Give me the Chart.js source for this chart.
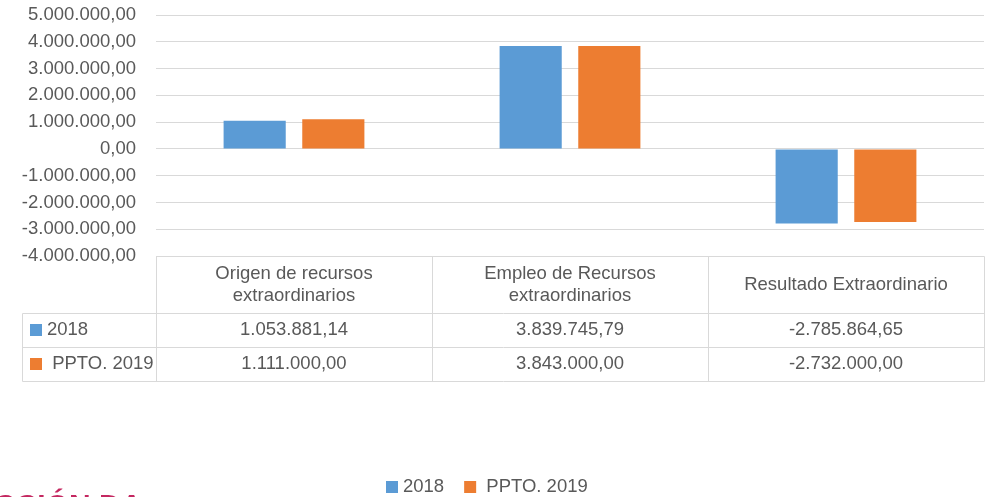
<!DOCTYPE html>
<html>
<head>
<meta charset="utf-8">
<script src="https://cdn.jsdelivr.net/npm/chart.js@4.4.1/dist/chart.umd.min.js"></script>
<style>
  html, body { margin: 0; padding: 0; background: #fff; }
  #wrap { width: 993px; height: 497px; position: relative; overflow: hidden; }
</style>
</head>
<body>
<div id="wrap"><canvas id="chart" width="993" height="497"></canvas></div>
<script>
const categories = [
  ['Origen de recursos', 'extraordinarios'],
  ['Empleo de Recursos', 'extraordinarios'],
  ['Resultado Extraordinario']
];
const seriesNames = ['2018', ' PPTO. 2019'];
const values2018 = [1053881.14, 3839745.79, -2785864.65];
const valuesPpto2019 = [1111000.00, 3843000.00, -2732000.00];
const yTicks = [-4000000, -3000000, -2000000, -1000000, 0, 1000000, 2000000, 3000000, 4000000, 5000000];

const colors = ['#5b9bd5', '#ed7d31'];
const textColor = '#595959';
const lineColor = '#d9d9d9';
const font = '"Liberation Sans", Arial, sans-serif';

function fmt(v) {
  const neg = v < 0;
  const parts = Math.abs(v).toFixed(2).split('.');
  return (neg ? '-' : '') + parts[0].replace(/\B(?=(\d{3})+(?!\d))/g, '.') + ',' + parts[1];
}

function line(ctx, x1, y1, x2, y2) {
  ctx.beginPath();
  ctx.moveTo(Math.round(x1) + 0.5, Math.round(y1) + 0.5);
  ctx.lineTo(Math.round(x2) + 0.5, Math.round(y2) + 0.5);
  ctx.stroke();
}

// tabla de datos + leyenda inferior
const tablePlugin = {
  id: 'dataTable',
  afterDraw(chart) {
    const ctx = chart.ctx;
    const a = chart.chartArea;
    const x = chart.scales.x;
    const top = a.bottom;
    const headBottom = top + 57;
    const rowH = 34;
    const labelLeft = 22;
    const colW = (a.right - a.left) / categories.length;
    const rowsBottom = headBottom + rowH * chart.data.datasets.length;

    ctx.save();
    ctx.strokeStyle = lineColor;
    ctx.lineWidth = 1;
    line(ctx, a.left, top, a.right, top);
    for (let r = 0; r <= chart.data.datasets.length; r++) {
      line(ctx, labelLeft, headBottom + r * rowH, a.right, headBottom + r * rowH);
    }
    line(ctx, labelLeft, headBottom, labelLeft, rowsBottom);
    for (let i = 0; i <= categories.length; i++) {
      line(ctx, a.left + i * colW, top, a.left + i * colW, rowsBottom);
    }

    ctx.fillStyle = textColor;
    ctx.font = '18.5px ' + font;
    ctx.textBaseline = 'middle';
    ctx.textAlign = 'center';
    const headMid = (top + headBottom) / 2;
    categories.forEach((lines, i) => {
      const cx = x.getPixelForValue(i);
      lines.forEach((t, k) => {
        ctx.fillText(t, cx, headMid + (k - (lines.length - 1) / 2) * 22);
      });
    });

    chart.data.datasets.forEach((ds, r) => {
      const mid = headBottom + r * rowH + rowH / 2;
      ctx.fillStyle = ds.backgroundColor;
      ctx.fillRect(30, Math.round(mid - 6), 12, 12);
      ctx.fillStyle = textColor;
      ctx.textAlign = 'left';
      ctx.fillText(ds.label, 47, mid);
      ctx.textAlign = 'center';
      ds.data.forEach((v, i) => {
        ctx.fillText(fmt(v), x.getPixelForValue(i), mid);
      });
    });

    // leyenda
    let lx = 386;
    const ly = 487;
    ctx.textAlign = 'left';
    chart.data.datasets.forEach(ds => {
      ctx.fillStyle = ds.backgroundColor;
      ctx.fillRect(lx, ly - 6, 12, 12);
      ctx.fillStyle = textColor;
      ctx.fillText(ds.label, lx + 17, ly);
      lx += 17 + ctx.measureText(ds.label).width + 20;
    });

    // título de la diapositiva, cortado por abajo
    ctx.fillStyle = '#c42760';
    ctx.font = 'bold 30px ' + font;
    ctx.textBaseline = 'top';
    ctx.fillText('CCIÓN DA', -6, 492);
    ctx.restore();
  }
};

new Chart(document.getElementById('chart'), {
  type: 'bar',
  data: {
    labels: categories,
    datasets: [
      { label: seriesNames[0], data: values2018, backgroundColor: colors[0] },
      { label: seriesNames[1], data: valuesPpto2019, backgroundColor: colors[1] }
    ]
  },
  options: {
    responsive: false,
    animation: false,
    categoryPercentage: 0.57,
    barPercentage: 0.79,
    layout: { padding: { left: 0, right: 9, top: 15, bottom: 241 } },
    plugins: {
      legend: { display: false },
      tooltip: { enabled: false }
    },
    scales: {
      x: { display: false },
      y: {
        min: yTicks[0],
        max: yTicks[yTicks.length - 1],
        afterFit: s => {
          s.width = 156;
          s.paddingTop = 0;
          s.paddingBottom = 0;
        },
        afterBuildTicks: s => { s.ticks = yTicks.map(v => ({ value: v })); },
        border: { display: false },
        grid: { color: lineColor, drawTicks: false },
        ticks: {
          padding: 20,
          color: textColor,
          font: { family: font, size: 18.5 },
          callback: v => fmt(v)
        }
      }
    }
  },
  plugins: [tablePlugin]
});
</script>
</body>
</html>
